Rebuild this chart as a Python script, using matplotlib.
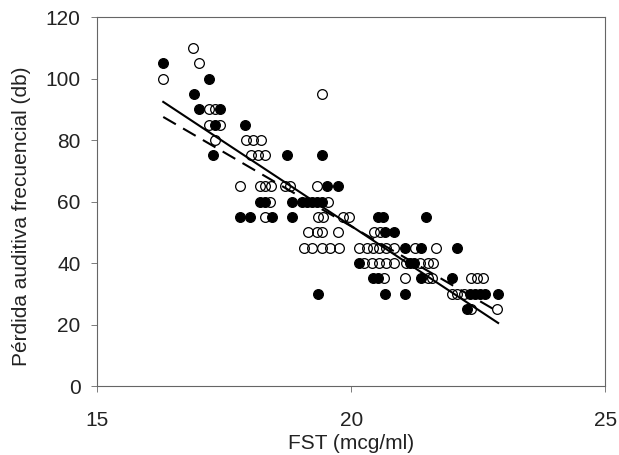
import matplotlib
matplotlib.use('Agg')
import matplotlib.pyplot as plt

# pérdida auditiva vs FST, open = one group, filled = other group
open_fst = [16.89,
            17.01,
            16.30,
            19.43,
            17.20, 17.32,
            17.20, 17.42,
            17.32, 17.93, 18.07, 18.23,
            18.03, 18.17, 18.31,
            17.81, 18.21, 18.31, 18.43, 18.70, 18.80, 19.33,
            18.41, 19.55,
            18.31, 19.35, 19.45, 19.84, 19.96,
            19.15, 19.33, 19.43, 19.74, 20.45, 20.57,
            19.06, 19.23, 19.43, 19.59, 19.76, 20.16, 20.30, 20.43, 20.55, 20.69, 20.85, 21.26, 21.67,
            20.26, 20.41, 20.55, 20.69, 20.85, 21.08, 21.36, 21.50, 21.61,
            20.65, 21.06, 21.50, 21.59, 22.36, 22.48, 22.60,
            21.99, 22.09, 22.22,
            22.36, 22.87]
open_db = [110,
           105,
           100,
           95,
           90, 90,
           85, 85,
           80, 80, 80, 80,
           75, 75, 75,
           65, 65, 65, 65, 65, 65, 65,
           60, 60,
           55, 55, 55, 55, 55,
           50, 50, 50, 50, 50, 50,
           45, 45, 45, 45, 45, 45, 45, 45, 45, 45, 45, 45, 45,
           40, 40, 40, 40, 40, 40, 40, 40, 40,
           35, 35, 35, 35, 35, 35, 35,
           30, 30, 30,
           25, 25]

filled_fst = [16.30,
              17.21,
              16.91,
              17.01, 17.42,
              17.32, 17.91,
              17.28, 18.74, 19.43,
              19.53, 19.74,
              18.21, 18.31, 18.84, 19.04, 19.13, 19.23, 19.33, 19.43,
              17.81, 18.01, 18.44, 18.84, 20.53, 20.63, 21.48,
              20.67, 20.85,
              21.06, 21.38, 22.09,
              20.16, 21.16, 21.24,
              20.43, 20.53, 21.38, 21.99,
              19.35, 20.67, 21.06, 22.34, 22.44, 22.54, 22.64, 22.89,
              22.28]
filled_db = [105,
             100,
             95,
             90, 90,
             85, 85,
             75, 75, 75,
             65, 65,
             60, 60, 60, 60, 60, 60, 60, 60,
             55, 55, 55, 55, 55, 55, 55,
             50, 50,
             45, 45, 45,
             40, 40, 40,
             35, 35, 35, 35,
             30, 30, 30, 30, 30, 30, 30, 30,
             25]

# regression lines (ends)
solid_x = [16.30, 22.89]
solid_y = [92.4, 20.5]
dash_x = [16.30, 22.80]
dash_y = [87.5, 25.0]

plt.rcParams['font.family'] = ['Liberation Sans', 'DejaVu Sans']

fig = plt.figure(figsize=(6.19, 4.55), dpi=100)
ax = fig.add_axes([0.157, 0.1516, 0.821, 0.811])

ax.plot(open_fst, open_db, 'o', ms=7, mfc='none', mec='black', mew=0.9, ls='none')
ax.plot(filled_fst, filled_db, 'o', ms=7, mfc='black', mec='black', mew=0.9, ls='none')
ax.plot(solid_x, solid_y, '-', color='black', lw=1.5)
ax.plot(dash_x, dash_y, '--', color='black', lw=1.5, dashes=(7, 4))

ax.set_xlim(15, 25)
ax.set_ylim(0, 120)
ax.set_xticks([15, 20, 25])
ax.set_yticks([0, 20, 40, 60, 80, 100, 120])

for s in ax.spines.values():
    s.set_color('#666666')
    s.set_linewidth(0.8)

ax.tick_params(axis='both', direction='out', length=4, width=0.6, color='#666666',
               labelsize=15, labelcolor='#222222')
ax.tick_params(axis='x', pad=14)
ax.tick_params(axis='y', pad=8)

ax.set_xlabel('FST (mcg/ml)', fontsize=15, color='#222222')
ax.set_ylabel('Pérdida auditiva frecuencial (db)', fontsize=15, color='#222222')
ax.xaxis.set_label_coords(0.5, -0.13)
ax.yaxis.set_label_coords(-0.13, 0.46)

fig.savefig('out.png', dpi=100)
